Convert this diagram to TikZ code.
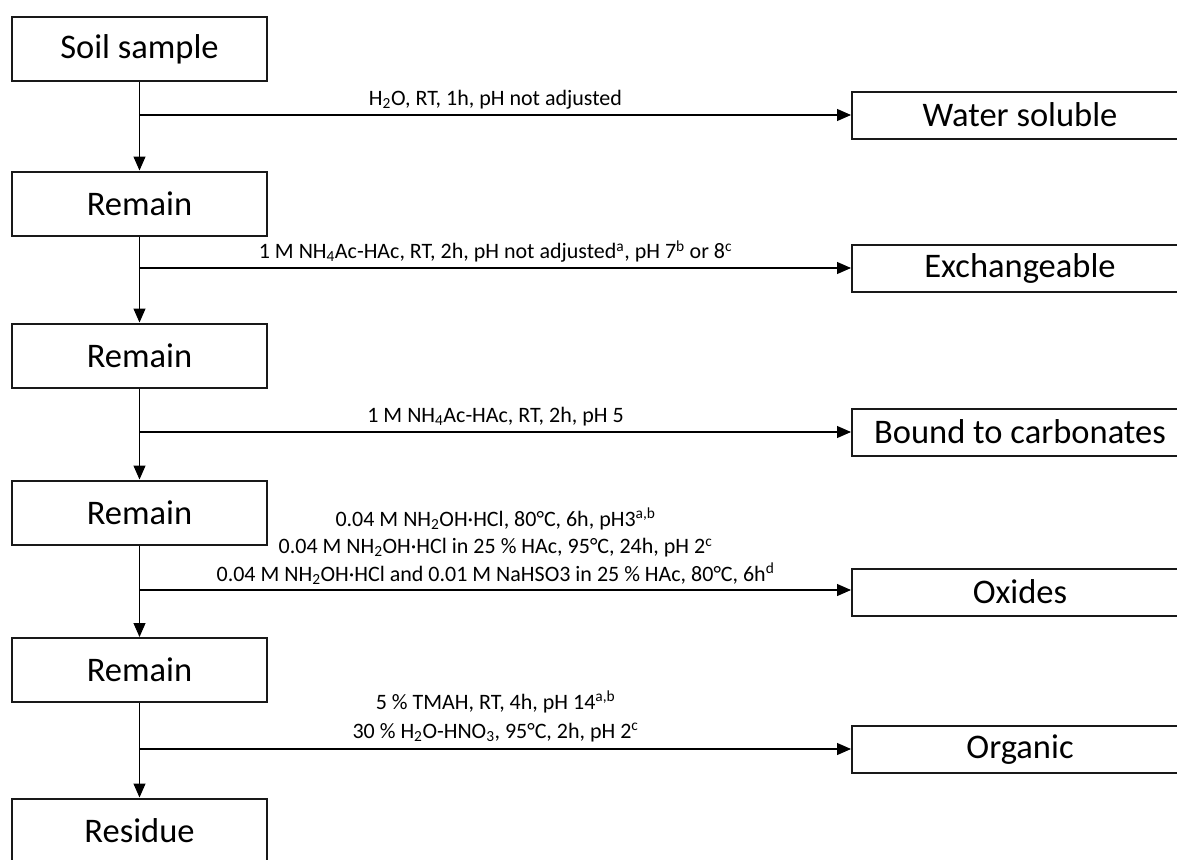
\documentclass[tikz,border=0pt]{standalone}
\usepackage{fontspec}
\setmainfont{Carlito}
\usetikzlibrary{arrows.meta,calc}
\begin{document}
\begin{tikzpicture}[x=1pt,y=-1pt,
  leftbox/.style={draw=black!90,line width=2pt,minimum width=255pt,minimum height=64pt,inner sep=0pt,font=\fontsize{34.5}{40}\selectfont},
  rightbox/.style={draw=black!90,line width=2pt,minimum width=336pt,minimum height=47pt,inner sep=0pt,font=\fontsize{34.5}{40}\selectfont},
  conn/.style={line width=1.1pt,-{Triangle[length=14pt,width=12pt]}},
  lbl/.style={inner sep=0pt,anchor=south,align=center,font=\fontsize{22}{27.5}\selectfont}]
\useasboundingbox (0,0) rectangle (1177,859);
% left column
\node[leftbox] (soil) at (139.5,49) {Soil sample};
\node[leftbox] (rem1) at (139.5,203.5) {Remain};
\node[leftbox] (rem2) at (139.5,355.5) {Remain};
\node[leftbox] (rem3) at (139.5,512.5) {Remain};
\node[leftbox] (rem4) at (139.5,670) {Remain};
\node[leftbox] (res) at (139.5,830.5) {Residue};
% right column
\node[rightbox] (water) at (1020,115) {Water soluble};
\node[rightbox] (exch) at (1020,268) {Exchangeable};
\node[rightbox] (carb) at (1020,432) {Bound to carbonates};
\node[rightbox] (oxi) at (1020,592) {Oxides};
\node[rightbox] (org) at (1020,749.5) {Organic};
% branch points
\coordinate (b1) at (140,115);
\coordinate (b2) at (140,268);
\coordinate (b3) at (140,432);
\coordinate (b4) at (140,590);
\coordinate (b5) at (140,749);
% vertical arrows
\draw[conn] (soil.south) -- (rem1.north);
\draw[conn] (rem1.south) -- (rem2.north);
\draw[conn] (rem2.south) -- (rem3.north);
\draw[conn] (rem3.south) -- (rem4.north);
\draw[conn] (rem4.south) -- (res.north);
% horizontal arrows
\draw[conn] (b1) -- (b1 -| water.west);
\draw[conn] (b2) -- (b2 -| exch.west);
\draw[conn] (b3) -- (b3 -| carb.west);
\draw[conn] (b4) -- (b4 -| oxi.west);
\draw[conn] (b5) -- (b5 -| org.west);
% labels
\node[lbl] (l1) at ($(b1)!0.5!(b1 -| water.west)+(0,-5.5)$) {H\textsubscript{2}O, RT, 1h, pH not adjusted};
\node[lbl] (l2) at ($(b2)!0.5!(b2 -| exch.west)+(0,-5.5)$) {1 M NH\textsubscript{4}Ac-HAc, RT, 2h, pH not adjusted\textsuperscript{a}, pH 7\textsuperscript{b} or 8\textsuperscript{c}};
\node[lbl] (l3) at ($(b3)!0.5!(b3 -| carb.west)+(0,-5.5)$) {1 M NH\textsubscript{4}Ac-HAc, RT, 2h, pH 5};
\node[lbl] (l4) at ($(b4)!0.5!(b4 -| oxi.west)+(0,-5.5)$) {0.04 M NH\textsubscript{2}OH·HCl, 80°C, 6h, pH3\textsuperscript{a,b}\\0.04 M NH\textsubscript{2}OH·HCl in 25 \% HAc, 95°C, 24h, pH 2\textsuperscript{c}\\0.04 M NH\textsubscript{2}OH·HCl and 0.01 M NaHSO3 in 25 \% HAc, 80°C, 6h\textsuperscript{d}};
\node[lbl,font=\fontsize{22}{29}\selectfont] (l5) at ($(b5)!0.5!(b5 -| org.west)+(0,-7)$) {5 \% TMAH, RT, 4h, pH 14\textsuperscript{a,b}\\30 \% H\textsubscript{2}O-HNO\textsubscript{3}, 95°C, 2h, pH 2\textsuperscript{c}};
\end{tikzpicture}
\end{document}
